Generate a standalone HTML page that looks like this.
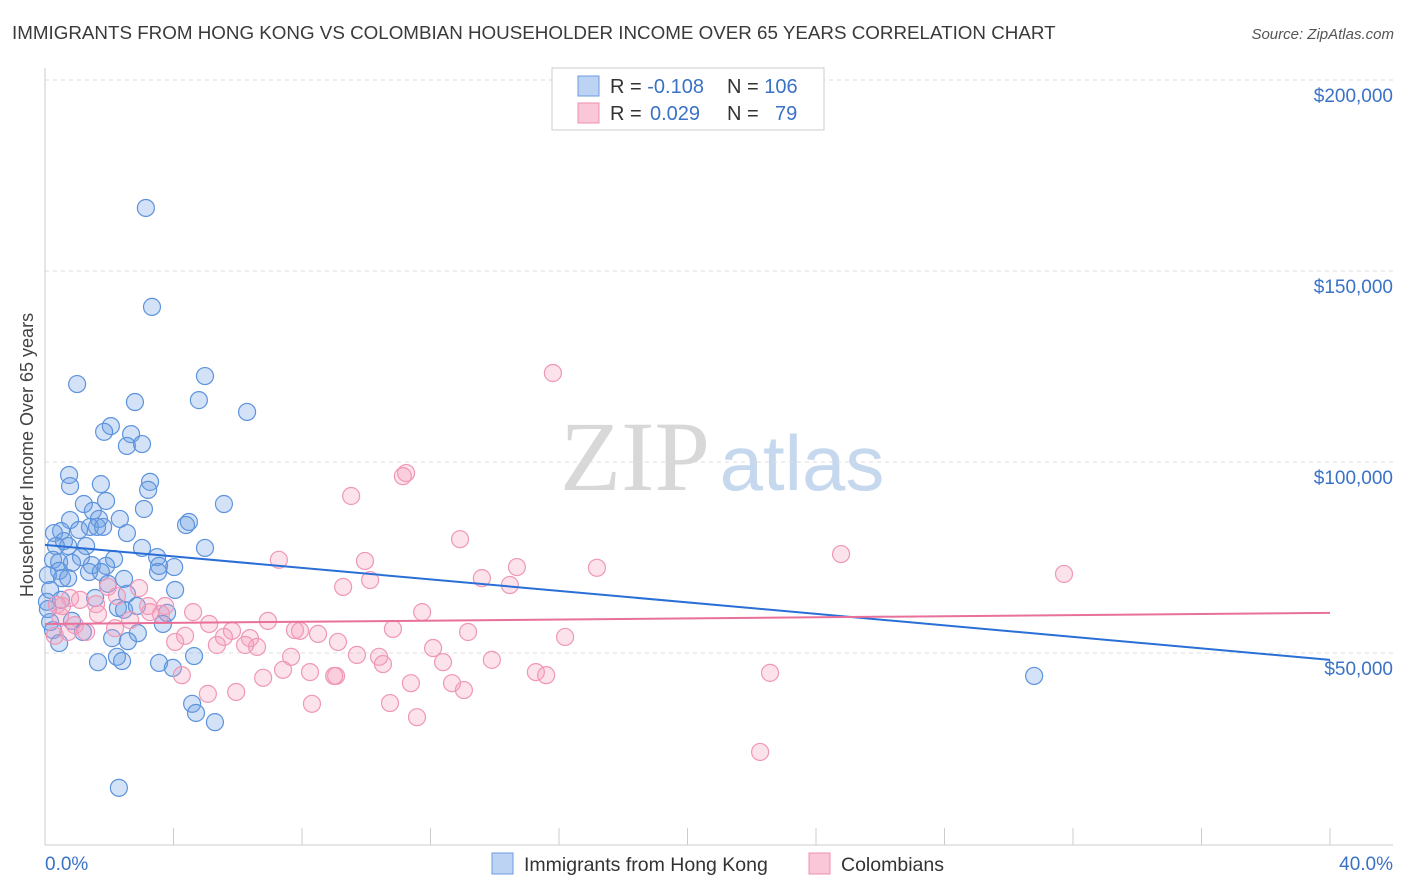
<!DOCTYPE html>
<html><head><meta charset="utf-8"><style>
body{margin:0;background:#fff;font-family:"Liberation Sans",sans-serif;}
#c{position:absolute;left:0;top:0;}
</style></head><body>
<svg id="c" width="1406" height="892" xmlns="http://www.w3.org/2000/svg" font-family="Liberation Sans, sans-serif">
<text x="12" y="39" font-size="18.8" fill="#3a3a3a">IMMIGRANTS FROM HONG KONG VS COLOMBIAN HOUSEHOLDER INCOME OVER 65 YEARS CORRELATION CHART</text>
<text x="1394" y="39" font-size="15" fill="#555" font-style="italic" text-anchor="end">Source: ZipAtlas.com</text>
<text transform="translate(33,455) rotate(-90)" font-size="18" fill="#444" text-anchor="middle">Householder Income Over 65 years</text>
<g>
<text x="635" y="490" font-size="100" font-family="Liberation Serif, serif" fill="#d8d8d8" text-anchor="middle">ZIP</text>
<text x="802" y="490" font-size="78" fill="#c5d8ee" text-anchor="middle">atlas</text>
</g>
<g id="grid"></g>
<g id="axes"></g>
<g id="pts"></g>
<g id="trend"></g>
<g>
<rect x="552" y="68" width="272" height="62" fill="#fff" stroke="#ccc"/>
<rect x="578" y="76" width="21" height="20" fill="#bcd3f3" stroke="#6b9de0"/>
<rect x="578" y="103" width="21" height="20" fill="#f9c7d7" stroke="#ef8fb1"/>
<text x="610" y="93" font-size="20" fill="#333">R = <tspan fill="#3a72c6">-0.108</tspan></text>
<text x="727" y="93" font-size="20" fill="#333">N = <tspan fill="#3a72c6">106</tspan></text>
<text x="610" y="120" font-size="20" fill="#333">R = <tspan x="650" fill="#3a72c6">0.029</tspan></text>
<text x="727" y="120" font-size="20" fill="#333">N = <tspan x="775" fill="#3a72c6">79</tspan></text>
</g>
<g>
<rect x="492" y="853" width="21" height="21" fill="#bcd3f3" stroke="#6b9de0"/>
<text x="524" y="871" font-size="19.5" fill="#333">Immigrants from Hong Kong</text>
<rect x="809" y="853" width="21" height="21" fill="#f9c7d7" stroke="#ef8fb1"/>
<text x="841" y="871" font-size="19.5" fill="#333">Colombians</text>
</g>
</svg>
<script>
const yTicks=[50,100,150,200];
const yTickLabels=["$50,000","$100,000","$150,000","$200,000"];
const xTicks=[0,4,8,12,16,20,24,28,32,36,40];
const xEndLabels=["0.0%","40.0%"];
const blueX=[3.14,3.33,1.00,4.98,4.79,2.80,6.29,2.05,1.84,2.68,2.55,3.02,0.75,0.78,3.27,3.21,1.74,1.90,5.57,1.21,3.08,1.49,1.68,2.33,4.48,4.39,0.78,0.50,1.06,1.40,1.62,1.81,0.28,2.55,0.59,0.72,0.34,1.28,4.98,3.02,3.49,2.15,1.12,0.25,0.44,0.84,1.46,1.90,3.55,4.02,1.37,1.74,3.52,0.44,0.09,0.53,2.46,0.72,1.96,4.05,0.16,0.06,2.55,0.50,1.56,2.27,2.46,2.86,3.80,0.84,0.25,3.67,1.18,2.89,2.09,2.58,0.44,2.24,2.40,1.65,3.55,3.98,4.64,4.58,4.70,5.29,30.79,2.30,0.16,0.09];
const blueY=[166.5,140.6,120.4,122.5,116.2,115.7,113.1,109.4,107.9,107.3,104.2,104.7,96.6,93.7,94.8,92.7,94.2,89.8,89.0,89.0,87.7,87.2,85.1,85.1,84.3,83.5,84.8,81.9,82.2,83.0,83.0,83.0,81.4,81.4,79.3,78.0,78.0,78.0,77.5,77.5,75.1,74.6,75.1,74.4,73.8,73.6,73.0,72.8,72.8,72.5,71.2,71.2,71.2,71.5,70.4,69.6,69.4,69.6,68.1,66.5,66.5,63.4,65.5,63.9,64.4,61.8,61.3,62.3,60.5,58.4,56.0,57.6,55.5,55.2,53.9,53.1,52.6,49.0,47.9,47.6,47.4,46.1,49.2,36.7,34.3,31.9,44.0,14.7,58.1,61.5];
const pinkX=[15.81,11.24,11.14,9.53,12.92,9.96,7.28,24.78,31.72,14.69,17.18,13.60,14.47,9.28,10.12,0.78,1.09,0.37,0.53,1.96,2.93,2.24,3.21,3.74,3.61,1.65,4.61,6.94,5.11,5.82,7.78,7.94,8.50,11.74,10.83,13.17,9.12,5.57,6.38,6.60,4.36,4.05,5.35,6.23,9.71,10.40,10.52,12.08,12.39,13.91,16.19,7.66,8.25,7.41,9.06,6.79,4.26,5.07,5.95,8.31,9.00,10.74,11.58,11.39,12.67,13.04,15.28,15.60,22.57,22.26,1.28,0.31,0.72,2.18,2.65,3.27,1.59,0.47,0.93];
const pinkY=[123.3,97.1,96.3,91.1,79.8,74.1,74.4,75.9,70.7,72.5,72.3,69.6,67.8,67.3,69.1,64.4,63.9,62.6,62.3,67.3,67.0,64.9,62.3,62.3,60.2,60.2,60.7,58.4,57.6,55.8,56.0,55.8,55.0,60.7,56.3,55.5,52.9,54.2,53.9,51.6,54.5,52.9,52.1,52.1,49.5,49.0,47.1,51.3,47.6,48.2,54.2,49.0,45.0,45.6,44.0,43.5,44.2,39.3,39.8,36.7,44.0,36.9,33.2,42.1,42.1,40.3,45.0,44.2,44.8,24.1,55.5,54.5,55.5,56.5,58.6,60.7,62.8,59.7,57.3];
const blueTrend=[78.3,48.2];
const pinkTrend=[57.6,60.5];
const trendX=[0,40];

const NS="http://www.w3.org/2000/svg";
const xs=v=>45+v*32.125;
const ys=v=>844-v*3.82;
function mk(tag,attrs,parent){const e=document.createElementNS(NS,tag);for(const k in attrs)e.setAttribute(k,attrs[k]);document.getElementById(parent).appendChild(e);return e;}
yTicks.forEach((t,i)=>{
 const g=mk('line',{x1:45,x2:1393,y1:ys(t),y2:ys(t),stroke:'#ddd','stroke-dasharray':'4,4'},'grid');
 
 
 const l=mk('text',{x:1393,y:ys(t)+22,'font-size':19,fill:'#3a72c6','text-anchor':'end'},'grid');
 l.textContent=yTickLabels[i];
 
 
});
const topGrid=mk('line',{x1:45,x2:1393,y1:80,y2:80,stroke:'#ddd','stroke-dasharray':'4,4'},'grid');


const ya=mk('line',{x1:45,x2:45,y1:68,y2:845,stroke:'#ccc'},'axes');


const xa=mk('line',{x1:45,x2:1393,y1:845,y2:845,stroke:'#ccc'},'axes');


xTicks.forEach(t=>{
 const tk=mk('line',{x1:xs(t),x2:xs(t),y1:828,y2:845,stroke:'#ccc'},'axes');
 
 
});
const xl0=mk('text',{x:45,y:870,'font-size':19,fill:'#3a72c6'},'axes');
xl0.textContent=xEndLabels[0];


const xl1=mk('text',{x:1393,y:870,'font-size':19,fill:'#3a72c6','text-anchor':'end'},'axes');
xl1.textContent=xEndLabels[1];


blueX.forEach((x,i)=>{
 const c=mk('circle',{cx:xs(x),cy:ys(blueY[i]),r:8.5,fill:'rgba(110,160,230,0.3)',stroke:'#5d93dc','stroke-width':1.2},'pts');
 
 
});
pinkX.forEach((x,i)=>{
 const c=mk('circle',{cx:xs(x),cy:ys(pinkY[i]),r:8.5,fill:'rgba(245,160,190,0.3)',stroke:'#ef97b6','stroke-width':1.2},'pts');
 
 
});
const bt=mk('line',{x1:xs(trendX[0]),x2:xs(trendX[1]),y1:ys(blueTrend[0]),y2:ys(blueTrend[1]),stroke:'#2a6fd6','stroke-width':2},'trend');


const pt=mk('line',{x1:xs(trendX[0]),x2:xs(trendX[1]),y1:ys(pinkTrend[0]),y2:ys(pinkTrend[1]),stroke:'#e8709a','stroke-width':2},'trend');


</script>
</body></html>
